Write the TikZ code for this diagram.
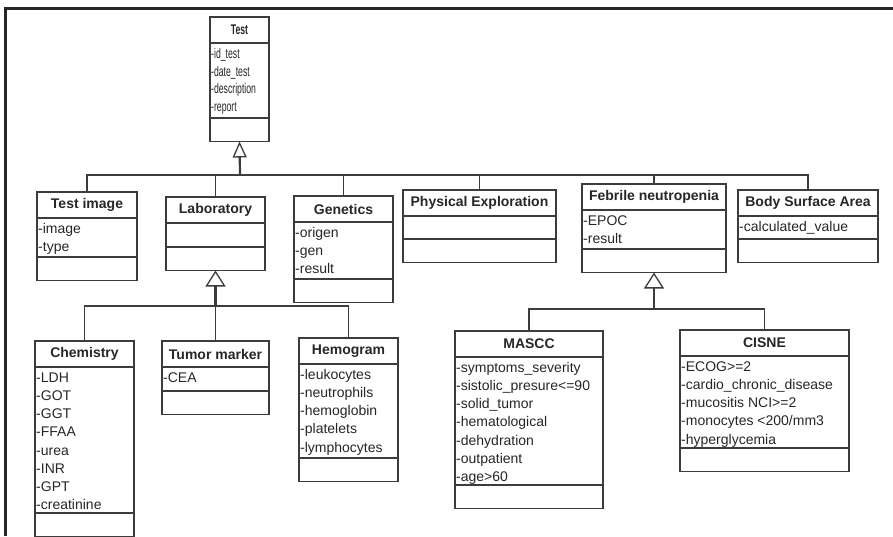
\documentclass[tikz,border=0pt]{standalone}
\usepackage{fontspec}
\setmainfont{Liberation Sans}
\usetikzlibrary{arrows.meta}

\definecolor{umlline}{HTML}{3C3C3C}
\definecolor{umltext}{HTML}{262626}

\tikzset{
  clspart/.style={draw=umlline, line width=1.2pt, inner sep=0pt, outer sep=0pt, anchor=north west},
  clstitle/.style={clspart, minimum height=26pt, text=umltext, font=\bfseries\fontsize{14}{17}\selectfont},
  clstext/.style={inner sep=0pt, anchor=north west, align=left, text=umltext, font=\fontsize{14}{18.2}\selectfont},
  bus/.style={draw=umlline, line width=1.4pt},
  stem/.style={draw=umlline, line width=2.2pt},
  genarrow/.style={-{Triangle[open, length=16pt, width=#1, line width=1.3pt]}},
}

% narrow lettering of the root class
\newcommand{\narrowtext}[1]{\scalebox{0.62}[1]{#1}}

% class box: [text style] name, left x, top y, width, attribute height, title, attributes
\newcommand{\umlclass}[8][]{%
  \node[clstitle, minimum width=#5pt] (#2) at (#3,#4) {#7};
  \node[clspart, minimum width=#5pt, minimum height=#6pt] (#2-attr) at (#2.south west) {};
  \node[clstext, #1] (#2-list) at ([xshift=1pt, yshift=-3pt]#2-attr.north west) {\rule{0pt}{12pt}#8};
  \node[clspart, minimum width=#5pt, minimum height=23.5pt] (#2-ops) at (#2-attr.south west) {};
}

\begin{document}
\begin{tikzpicture}[x=1pt, y=-1pt]
\useasboundingbox (0,0) rectangle (893,536);
% Frame along top and left
\draw[line width=3pt, draw=black!85] (5.5,536) |- (893,8.5);
% Root class
\umlclass[font=\fontsize{14}{17.8}\selectfont]{test}{210}{17}{59}{75}{\narrowtext{Test}}{\narrowtext{-id\_test}\\\narrowtext{-date\_test}\\\narrowtext{-description}\\\narrowtext{-report}}
% Second row
\umlclass{timg}{37}{192}{100}{39}{Test image}{-image\\-type}
\umlclass{lab}{166}{197}{99}{24}{Laboratory}{}
\umlclass{gen}{294}{196}{99}{57}{Genetics}{-origen\\-gen\\-result}
\umlclass{phys}{403}{190}{153}{23}{Physical Exploration}{}
\umlclass{febr}{582}{184}{144}{39}{Febrile neutropenia}{-EPOC\\-result}
\umlclass{bsa}{738}{190}{140}{23}{Body Surface Area}{-calculated\_value}
% Laboratory subclasses
\umlclass{chem}{35}{341}{99}{146}{Chemistry}{-LDH\\-GOT\\-GGT\\-FFAA\\-urea\\-INR\\-GPT\\-creatinine}
\umlclass{tumor}{162}{341}{107}{24}{Tumor marker}{-CEA}
\umlclass{hemo}{299}{338}{99}{94}{Hemogram}{-leukocytes\\-neutrophils\\-hemoglobin\\-platelets\\-lymphocytes}
% Febrile neutropenia subclasses
\umlclass{mascc}{455}{331}{148}{128}{MASCC}{-symptoms\_severity\\-sistolic\_presure<=90\\-solid\_tumor\\-hematological\\-dehydration\\-outpatient\\-age>60}
\umlclass{cisne}{680}{330}{169}{92}{CISNE}{-ECOG>=2\\-cardio\_chronic\_disease\\-mucositis NCI>=2\\-monocytes <200/mm3\\-hyperglycemia}
% Generalization to Test
\coordinate (bus1) at (240,175);
\foreach \cls in {timg,lab,gen,phys,febr,bsa}
  \draw[bus] (\cls.north) |- (bus1);
\draw[stem, genarrow=14pt] (bus1) -- (test-ops.south);
% Generalization to Laboratory
\coordinate (bus2) at (215.5,306);
\foreach \cls in {chem,tumor,hemo}
  \draw[bus] (\cls.north) |- (bus2);
\draw[stem, genarrow=20pt] (bus2) -- (lab-ops.south);
% Generalization to Febrile neutropenia
\coordinate (bus3) at (654,309);
\foreach \cls in {mascc,cisne}
  \draw[bus] (\cls.north) |- (bus3);
\draw[stem, genarrow=20pt] (bus3) -- (febr-ops.south);
\end{tikzpicture}
\end{document}
